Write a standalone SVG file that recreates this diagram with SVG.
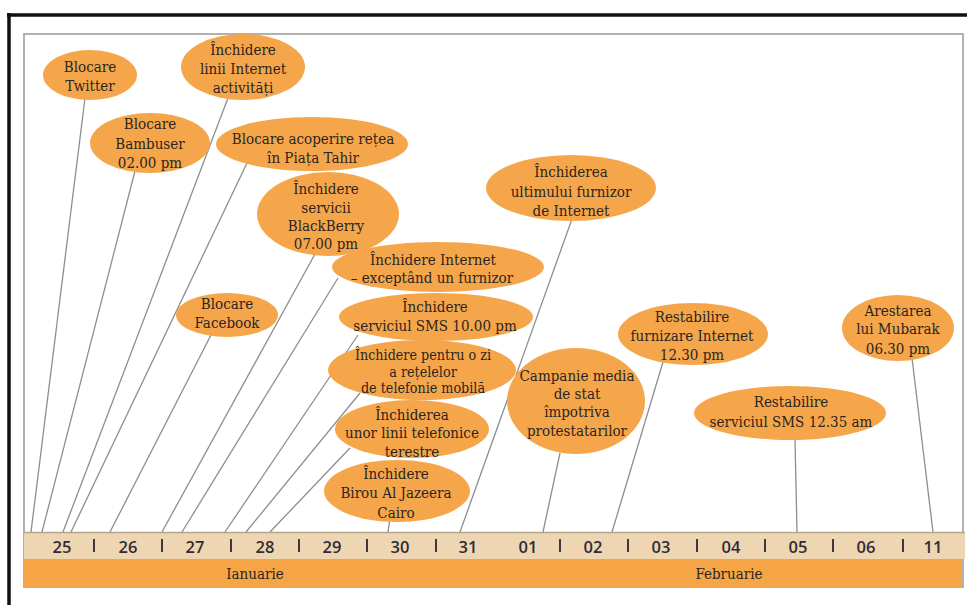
<svg xmlns="http://www.w3.org/2000/svg" width="967" height="605" viewBox="0 0 967 605">
<style>
.n{fill:#F6A64A}
.t{font-family:'DejaVu Serif Condensed','DejaVu Serif',serif;font-stretch:condensed;font-size:15px;fill:#2a2520;text-anchor:middle}
.s{font-size:14.2px}
.c line{stroke:#8e8e8e;stroke-width:1.3}
.d{font-family:'Open Sans','DejaVu Sans',sans-serif;font-size:16.5px;font-weight:600;fill:#2e2c38;text-anchor:middle}
.m{font-family:'DejaVu Serif Condensed','DejaVu Serif',serif;font-stretch:condensed;font-size:15px;fill:#2a2520;text-anchor:middle}
.k{stroke:#3a3a3a;stroke-width:2}
</style>
<rect width="967" height="605" fill="#fff"/>
<!-- frame -->
<line x1="7" y1="15" x2="967" y2="15" stroke="#111" stroke-width="3.5"/>
<line x1="9" y1="13" x2="9" y2="605" stroke="#111" stroke-width="3.5"/>
<rect x="24" y="34" width="939" height="553" fill="none" stroke="#a9a9a9" stroke-width="1.8"/>
<!-- band -->
<rect x="24" y="532" width="941" height="27" fill="#EFD6B2"/>
<line x1="24" y1="532.5" x2="965" y2="532.5" stroke="#b5a58e" stroke-width="1.5"/>
<rect x="23" y="559" width="939" height="29" fill="#F6A546"/>
<text class="m" x="255" y="579">Ianuarie</text>
<text class="m" x="729" y="579">Februarie</text>
<g id="dates">
<text class="d" x="62" y="553">25</text>
<text class="d" x="128" y="553">26</text>
<text class="d" x="195" y="553">27</text>
<text class="d" x="265" y="553">28</text>
<text class="d" x="332" y="553">29</text>
<text class="d" x="400" y="553">30</text>
<text class="d" x="468" y="553">31</text>
<text class="d" x="528" y="553">01</text>
<text class="d" x="593" y="553">02</text>
<text class="d" x="661" y="553">03</text>
<text class="d" x="731" y="553">04</text>
<text class="d" x="798" y="553">05</text>
<text class="d" x="866" y="553">06</text>
<text class="d" x="933" y="553">11</text>
<line class="k" x1="94" y1="539" x2="94" y2="552"/>
<line class="k" x1="162" y1="539" x2="162" y2="552"/>
<line class="k" x1="231" y1="539" x2="231" y2="552"/>
<line class="k" x1="299" y1="539" x2="299" y2="552"/>
<line class="k" x1="367" y1="539" x2="367" y2="552"/>
<line class="k" x1="436" y1="539" x2="436" y2="552"/>
<line class="k" x1="560" y1="539" x2="560" y2="552"/>
<line class="k" x1="628" y1="539" x2="628" y2="552"/>
<line class="k" x1="697" y1="539" x2="697" y2="552"/>
<line class="k" x1="765" y1="539" x2="765" y2="552"/>
<line class="k" x1="833" y1="539" x2="833" y2="552"/>
<line class="k" x1="903" y1="539" x2="903" y2="552"/>
</g>
<g id="connectors" class="c">
<line x1="85" y1="98" x2="31" y2="532"/>
<line x1="135" y1="171" x2="42" y2="532"/>
<line x1="228" y1="98" x2="63" y2="532"/>
<line x1="247" y1="163" x2="71" y2="532"/>
<line x1="211" y1="335" x2="110" y2="532"/>
<line x1="315" y1="254" x2="162" y2="532"/>
<line x1="338" y1="278" x2="182" y2="532"/>
<line x1="358" y1="335" x2="225" y2="532"/>
<line x1="360" y1="393" x2="246" y2="532"/>
<line x1="350" y1="448" x2="270" y2="532"/>
<line x1="390" y1="518" x2="388" y2="532"/>
<line x1="572" y1="219" x2="460" y2="532"/>
<line x1="560" y1="453" x2="543" y2="532"/>
<line x1="663" y1="362" x2="612" y2="532"/>
<line x1="795" y1="440" x2="797" y2="532"/>
<line x1="912" y1="358" x2="933" y2="532"/>
</g>
<g id="n-twitter"><ellipse class="n" cx="90" cy="75" rx="47" ry="25"/>
<text class="t" x="90"><tspan x="90" y="72">Blocare</tspan><tspan x="90" y="91">Twitter</tspan></text></g>
<g id="n-linii"><ellipse class="n" cx="243" cy="67" rx="62" ry="33"/>
<text class="t"><tspan x="243" y="55">Închidere</tspan><tspan x="243" y="74">linii Internet</tspan><tspan x="243" y="93">activități</tspan></text></g>
<g id="n-bambuser"><ellipse class="n" cx="150" cy="143" rx="60" ry="30"/>
<text class="t"><tspan x="150" y="129">Blocare</tspan><tspan x="150" y="149">Bambuser</tspan><tspan x="150" y="168">02.00 pm</tspan></text></g>
<g id="n-acoperire"><ellipse class="n" cx="312" cy="144" rx="96" ry="27"/>
<text class="t"><tspan x="313" y="144">Blocare acoperire rețea</tspan><tspan x="313" y="163">în Piața Tahir</tspan></text></g>
<g id="n-blackberry"><ellipse class="n" cx="328" cy="214" rx="71" ry="42"/>
<text class="t"><tspan x="326" y="194">Închidere</tspan><tspan x="326" y="213">servicii</tspan><tspan x="326" y="231">BlackBerry</tspan><tspan x="326" y="249">07.00 pm</tspan></text></g>
<g id="n-exceptand"><ellipse class="n" cx="438" cy="267" rx="106" ry="25"/>
<text class="t"><tspan x="433" y="265">Închidere Internet</tspan><tspan x="432" y="283">– exceptând un furnizor</tspan></text></g>
<g id="n-facebook"><ellipse class="n" cx="227" cy="315" rx="51" ry="22"/>
<text class="t"><tspan x="227" y="309">Blocare</tspan><tspan x="227" y="328">Facebook</tspan></text></g>
<g id="n-sms10"><ellipse class="n" cx="436" cy="317" rx="97" ry="24"/>
<text class="t"><tspan x="435" y="312">Închidere</tspan><tspan x="435" y="331">serviciul SMS 10.00 pm</tspan></text></g>
<g id="n-ozi"><ellipse class="n" cx="422" cy="370" rx="94" ry="30"/>
<text class="t s"><tspan x="423" y="360">Închidere pentru o zi</tspan><tspan x="423" y="377">a rețelelor</tspan><tspan x="423" y="393">de telefonie mobilă</tspan></text></g>
<g id="n-terestre"><ellipse class="n" cx="412" cy="429" rx="77" ry="29"/>
<text class="t"><tspan x="412" y="420">Închiderea</tspan><tspan x="412" y="438">unor linii telefonice</tspan><tspan x="412" y="457">terestre</tspan></text></g>
<g id="n-jazeera"><ellipse class="n" cx="397" cy="491" rx="73" ry="31"/>
<text class="t"><tspan x="396" y="479">Închidere</tspan><tspan x="396" y="498">Birou Al Jazeera</tspan><tspan x="396" y="518">Cairo</tspan></text></g>
<g id="n-ultimului"><ellipse class="n" cx="571" cy="188" rx="85" ry="33"/>
<text class="t"><tspan x="571" y="177">Închiderea</tspan><tspan x="571" y="197">ultimului furnizor</tspan><tspan x="571" y="216">de Internet</tspan></text></g>
<g id="n-campanie"><ellipse class="n" cx="576" cy="401" rx="69" ry="53"/>
<text class="t"><tspan x="577" y="381">Campanie media</tspan><tspan x="577" y="399">de stat</tspan><tspan x="577" y="417">împotriva</tspan><tspan x="577" y="436">protestatarilor</tspan></text></g>
<g id="n-restab-internet"><ellipse class="n" cx="693" cy="334" rx="75" ry="31"/>
<text class="t"><tspan x="692" y="322">Restabilire</tspan><tspan x="692" y="341">furnizare Internet</tspan><tspan x="692" y="360">12.30 pm</tspan></text></g>
<g id="n-mubarak"><ellipse class="n" cx="898" cy="328" rx="56" ry="33"/>
<text class="t"><tspan x="898" y="316">Arestarea</tspan><tspan x="898" y="334">lui Mubarak</tspan><tspan x="898" y="354">06.30 pm</tspan></text></g>
<g id="n-restab-sms"><ellipse class="n" cx="790" cy="413" rx="96" ry="27"/>
<text class="t"><tspan x="791" y="407">Restabilire</tspan><tspan x="791" y="427">serviciul SMS 12.35 am</tspan></text></g>
</svg>
